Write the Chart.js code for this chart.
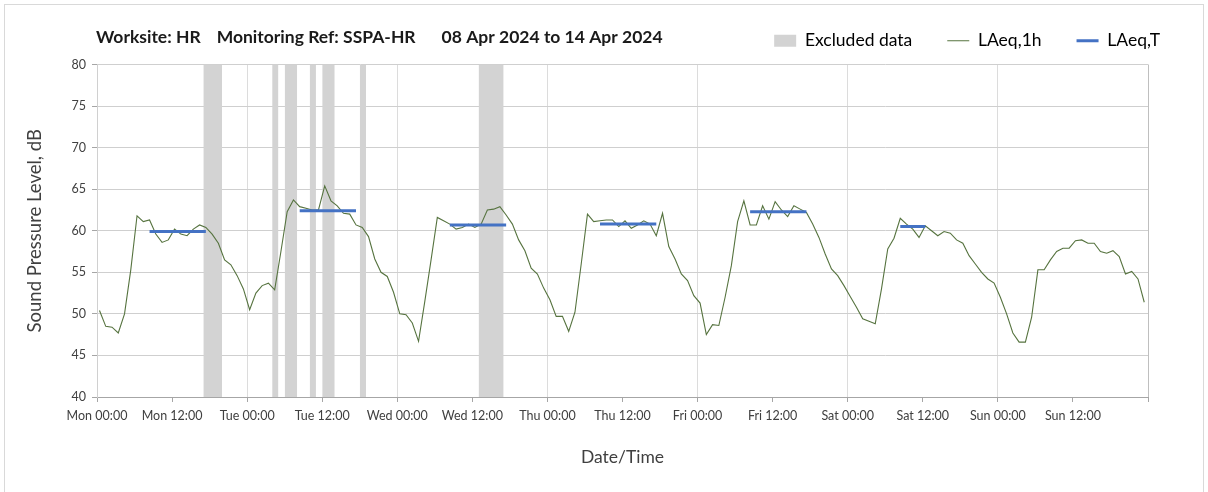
<!DOCTYPE html>
<html lang="en">
<head>
  <meta charset="UTF-8" />
  <title>Noise Monitoring - SSPA-HR</title>
  <script src="https://cdn.jsdelivr.net/npm/chart.js"></script>
  <style>
    body {
      margin: 0;
      background: #fff;
    }
  </style>
</head>
<body>

<canvas id="noiseChart" width="1208" height="492"></canvas>

<script>
  // Hourly LAeq,1h values (dB), Mon 00:00 through Sun 23:00
  const laeq1h = [
    50.4, 48.5, 48.4, 47.7, 50.0, 55.3, 61.8, 61.1, 61.3, 59.6, 58.6, 58.9,
    60.2, 59.6, 59.4, 60.2, 60.7, 60.4, 59.6, 58.5, 56.5, 55.9, 54.6, 53.0,
    50.5, 52.5, 53.4, 53.7, 52.9, 57.5, 62.3, 63.7, 62.9, 62.7, 62.5, 62.5,
    65.4, 63.6, 63.0, 62.1, 62.0, 60.7, 60.4, 59.3, 56.6, 55.0, 54.5, 52.6,
    50.0, 49.9, 48.9, 46.7, 51.5, 56.5, 61.6, 61.2, 60.8, 60.2, 60.4, 60.8,
    60.4, 60.8, 62.5, 62.6, 62.9, 61.9, 60.8, 58.9, 57.6, 55.5, 54.8, 53.1,
    51.7, 49.7, 49.7, 47.9, 50.2, 56.0, 62.0, 61.1, 61.2, 61.3, 61.3, 60.5,
    61.2, 60.3, 60.7, 61.2, 60.8, 59.4, 62.1, 58.1, 56.6, 54.8, 54.0, 52.2,
    51.3, 47.5, 48.7, 48.6, 52.0, 55.8, 61.1, 63.6, 60.7, 60.7, 63.0, 61.4,
    63.5, 62.5, 61.7, 63.0, 62.6, 62.2, 60.8, 59.2, 57.2, 55.4, 54.6, 53.4,
    52.1, 50.8, 49.4, 49.1, 48.8, 53.0, 57.8, 59.1, 61.5, 60.8, 60.2, 59.2,
    60.6, 60.0, 59.4, 59.9, 59.7, 58.9, 58.5, 57.0, 56.0, 55.0, 54.2, 53.7,
    52.0, 50.0, 47.7, 46.6, 46.6, 49.6, 55.3, 55.3, 56.5, 57.5, 57.9, 57.9,
    58.8, 58.9, 58.5, 58.5, 57.5, 57.3, 57.6, 56.9, 54.8, 55.1, 54.2, 51.4
  ];

  // LAeq,T over each daytime period: first and last hour index, level (dB)
  const periodStart = [8, 32, 56, 80, 104, 128];
  const periodEnd = [17, 41, 65, 89, 113, 132];
  const periodLevel = [59.9, 62.4, 60.7, 60.8, 62.3, 60.5];

  // Excluded data windows, hours from Mon 00:00
  const excludedStart = [17, 28, 30, 34, 36, 42, 61];
  const excludedEnd = [20, 29, 32, 35, 38, 43, 65];

  const tickLabels = [
    'Mon 00:00', 'Mon 12:00', 'Tue 00:00', 'Tue 12:00', 'Wed 00:00', 'Wed 12:00',
    'Thu 00:00', 'Thu 12:00', 'Fri 00:00', 'Fri 12:00', 'Sat 00:00', 'Sat 12:00',
    'Sun 00:00', 'Sun 12:00'
  ];

  const titleParts = ['Worksite: HR', 'Monitoring Ref: SSPA-HR', '08 Apr 2024 to 14 Apr 2024'];

  const HOUR_OFFSET = 0.4; // hourly points sit inside their hour

  const GREY = '#d3d3d3';
  const GREEN = '#56733f';
  const BLUE = '#4472c4';
  const FONT = 'Lato, "Open Sans", sans-serif';

  Chart.defaults.font.family = FONT;
  Chart.defaults.color = '#404040';

  const bandSets = excludedStart.map((s, i) => ({
    label: 'Excluded data',
    data: [{ x: s, y: 80 }, { x: excludedEnd[i], y: 80 }],
    borderColor: 'transparent',
    borderWidth: 0,
    backgroundColor: GREY,
    fill: 'start',
    pointRadius: 0,
    order: 3
  }));

  const periodPoints = [];
  periodStart.forEach((s, i) => {
    periodPoints.push({ x: s + HOUR_OFFSET, y: periodLevel[i] });
    periodPoints.push({ x: periodEnd[i] + HOUR_OFFSET, y: periodLevel[i] });
    periodPoints.push({ x: periodEnd[i] + HOUR_OFFSET, y: null });
  });

  // Header text drawn on the same row as the legend
  const headerPlugin = {
    id: 'header',
    afterDraw(chart) {
      const ctx = chart.ctx;
      ctx.save();
      ctx.font = 'bold 17.5px ' + FONT;
      ctx.fillStyle = '#1a1a1a';
      ctx.textBaseline = 'middle';
      const gaps = [16, 26];
      let x = chart.chartArea.left - 1;
      titleParts.forEach((t, i) => {
        ctx.fillText(t, x, 37);
        x += ctx.measureText(t).width + (gaps[i] || 0);
      });
      ctx.restore();
    }
  };

  const framePlugin = {
    id: 'frame',
    beforeDraw(chart) {
      const ctx = chart.ctx;
      ctx.save();
      ctx.strokeStyle = '#d9d9d9';
      ctx.lineWidth = 1;
      ctx.strokeRect(4.5, 4.5, chart.width - 9, chart.height + 10);
      ctx.restore();
    }
  };

  // empty axis used only to reserve space
  const spacer = size => ({
    display: true,
    grid: { display: false },
    border: { display: false },
    ticks: { display: false },
    afterFit: s => {
      if (s.isHorizontal()) s.height = size; else s.width = size;
    }
  });

  new Chart(document.getElementById('noiseChart'), {
    type: 'line',
    data: {
      datasets: [
        ...bandSets,
        {
          label: 'LAeq,1h',
          data: laeq1h.map((v, i) => ({ x: i + HOUR_OFFSET, y: v })),
          borderColor: GREEN,
          borderWidth: 1.1,
          pointRadius: 0,
          tension: 0,
          order: 2
        },
        {
          label: 'LAeq,T',
          data: periodPoints,
          borderColor: BLUE,
          borderWidth: 3,
          pointRadius: 0,
          spanGaps: false,
          order: 1
        }
      ]
    },
    options: {
      responsive: false,
      animation: false,
      layout: {
        // legend padding is wide for item spacing, so pull its box up
        padding: { left: 20, right: 13, top: -3, bottom: 24 }
      },
      plugins: {
        tooltip: { enabled: false },
        legend: {
          position: 'top',
          align: 'end',
          labels: {
            usePointStyle: true,
            pointStyleWidth: 22,
            boxHeight: 12,
            padding: 35,
            color: '#262626',
            font: { size: 17.5 },
            generateLabels: () => [
              { text: 'Excluded data', fillStyle: GREY, strokeStyle: GREY, lineWidth: 0, pointStyle: 'rect', datasetIndex: 0 },
              { text: 'LAeq,1h', fillStyle: GREEN, strokeStyle: GREEN, lineWidth: 1.1, pointStyle: 'line', datasetIndex: bandSets.length },
              { text: 'LAeq,T', fillStyle: BLUE, strokeStyle: BLUE, lineWidth: 3, pointStyle: 'line', datasetIndex: bandSets.length + 1 }
            ]
          }
        }
      },
      scales: {
        x: {
          type: 'linear',
          min: 0,
          max: 168,
          ticks: {
            stepSize: 12,
            autoSkip: false,
            maxRotation: 0,
            padding: 6,
            color: '#404040',
            font: { size: 12.5 },
            callback: v => tickLabels[v / 12] || ''
          },
          grid: {
            color: c => c.tick.value === 168 ? '#bfbfbf' : (c.tick.value % 24 === 0 ? '#dcdcdc' : 'transparent'),
            tickColor: '#a6a6a6',
            tickLength: 5
          },
          border: { color: '#a6a6a6' },
          title: {
            display: true,
            text: 'Date/Time',
            font: { size: 17.5 },
            color: '#404040',
            padding: { top: 18, bottom: 0 }
          }
        },
        xTop: { type: 'linear', position: 'top', axis: 'x', ...spacer(5) },
        y: {
          min: 40,
          max: 80,
          ticks: {
            stepSize: 5,
            padding: 6,
            color: '#404040',
            font: { size: 12.5 }
          },
          grid: {
            color: '#cfcfcf',
            tickColor: '#a6a6a6',
            tickLength: 5
          },
          border: { color: '#d0d0d0' },
          title: {
            display: true,
            text: 'Sound Pressure Level, dB',
            font: { size: 18.5 },
            color: '#404040',
            padding: { top: 4, bottom: 0 }
          },
          afterFit: s => { s.width = 77; }
        },
        yRight: { position: 'right', ...spacer(47) }
      }
    },
    plugins: [framePlugin, headerPlugin]
  });
</script>

</body>
</html>
